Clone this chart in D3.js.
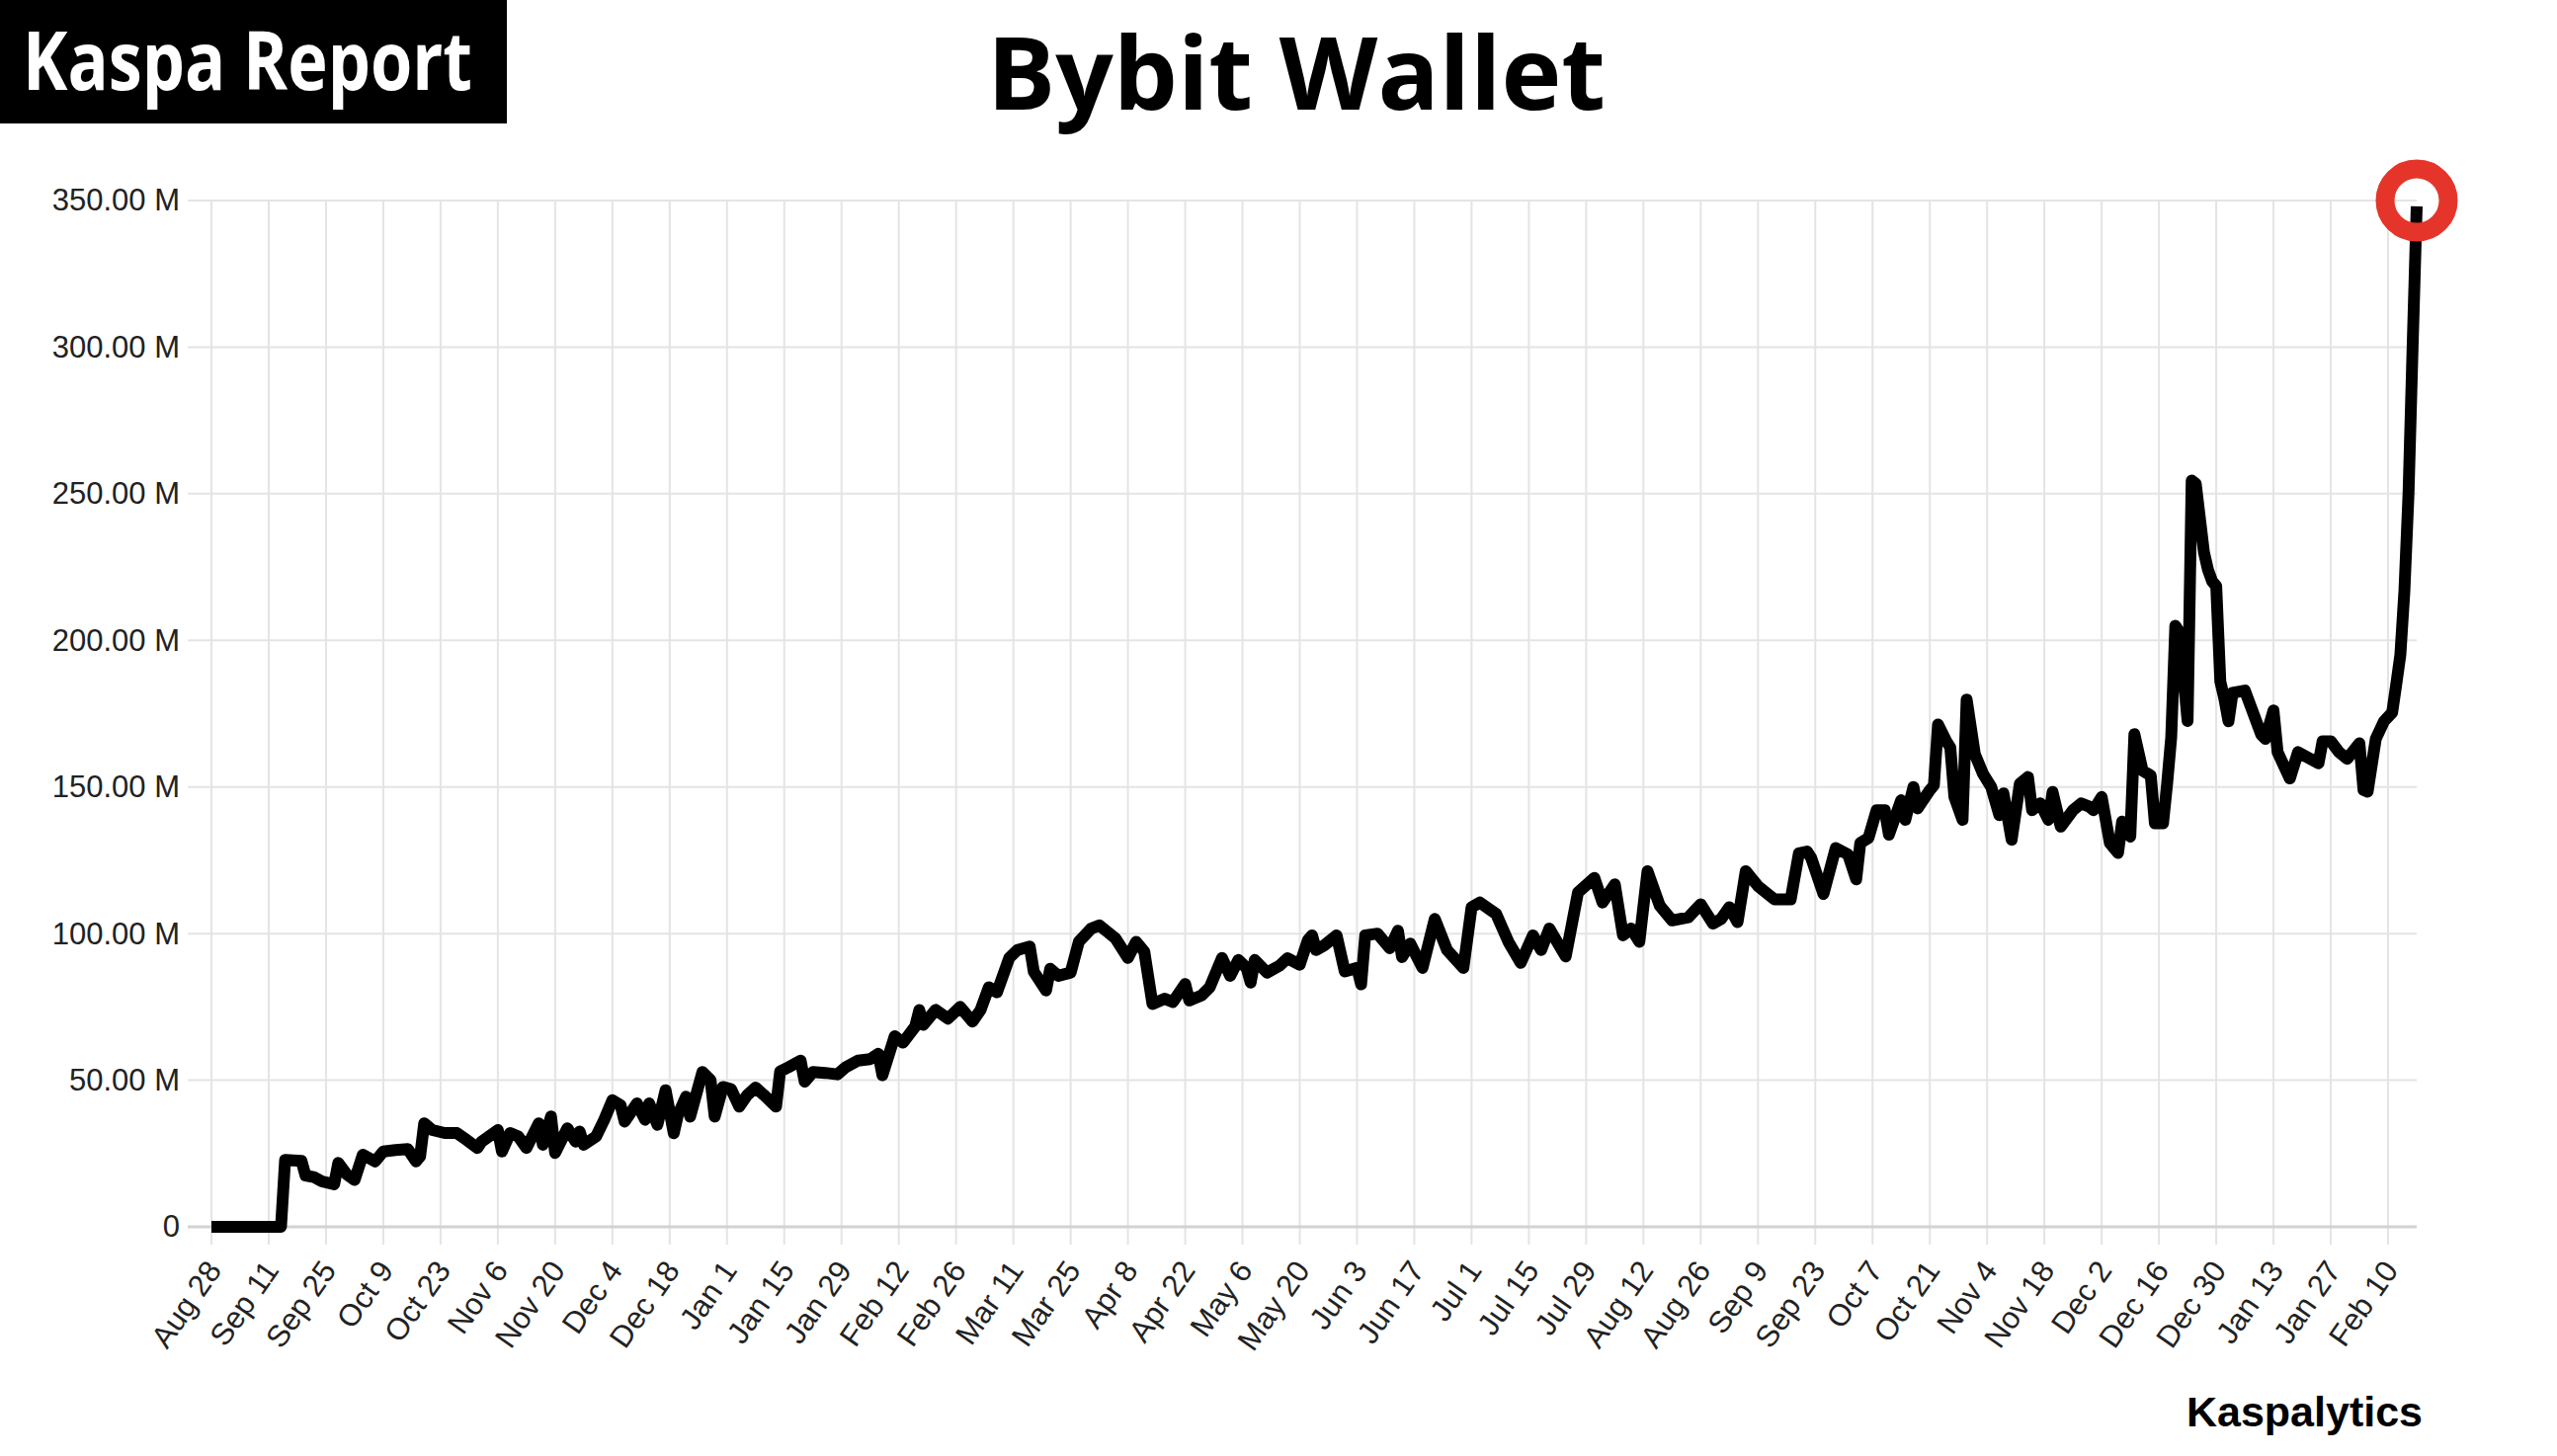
<!DOCTYPE html>
<html>
<head>
<meta charset="utf-8">
<script src="https://cdn.jsdelivr.net/npm/d3@7"></script>
<style>
  html, body { margin: 0; padding: 0; background: #fff; }
  svg { display: block; }
</style>
</head>
<body>
<script>
// Wallet balance (millions of KAS)
const dates = [
  "2023-08-28","2023-09-11","2023-09-14","2023-09-15","2023-09-19","2023-09-20","2023-09-22","2023-09-24","2023-09-27","2023-09-28","2023-09-30",
  "2023-10-02","2023-10-04","2023-10-07","2023-10-09","2023-10-12","2023-10-15","2023-10-17","2023-10-18","2023-10-19","2023-10-21","2023-10-24","2023-10-27","2023-10-29",
  "2023-11-01","2023-11-02","2023-11-06","2023-11-07","2023-11-09","2023-11-11","2023-11-13","2023-11-16","2023-11-17","2023-11-19","2023-11-20","2023-11-23","2023-11-25","2023-11-26","2023-11-27","2023-11-30",
  "2023-12-02","2023-12-04","2023-12-06","2023-12-07","2023-12-10","2023-12-12","2023-12-13","2023-12-15","2023-12-17","2023-12-19","2023-12-20","2023-12-22","2023-12-23","2023-12-26","2023-12-28","2023-12-29","2023-12-31",
  "2024-01-02","2024-01-04","2024-01-06","2024-01-08","2024-01-10","2024-01-13","2024-01-14","2024-01-16","2024-01-19","2024-01-20","2024-01-22","2024-01-25","2024-01-28","2024-01-30",
  "2024-02-02","2024-02-05","2024-02-07","2024-02-08","2024-02-11","2024-02-13","2024-02-16","2024-02-17","2024-02-18","2024-02-21","2024-02-24","2024-02-27",
  "2024-03-01","2024-03-03","2024-03-05","2024-03-07","2024-03-10","2024-03-12","2024-03-15","2024-03-16","2024-03-19","2024-03-20","2024-03-22","2024-03-25","2024-03-27","2024-03-30",
  "2024-04-01","2024-04-03","2024-04-05","2024-04-08","2024-04-10","2024-04-12","2024-04-14","2024-04-17","2024-04-19","2024-04-22","2024-04-23","2024-04-26","2024-04-28",
  "2024-05-01","2024-05-03","2024-05-05","2024-05-07","2024-05-08","2024-05-09","2024-05-12","2024-05-15","2024-05-17","2024-05-20","2024-05-22","2024-05-23","2024-05-24","2024-05-26","2024-05-29","2024-05-31",
  "2024-06-03","2024-06-04","2024-06-05","2024-06-08","2024-06-11","2024-06-13","2024-06-14","2024-06-16","2024-06-19","2024-06-22","2024-06-25","2024-06-29",
  "2024-07-01","2024-07-03","2024-07-07","2024-07-10","2024-07-13","2024-07-16","2024-07-18","2024-07-20","2024-07-24","2024-07-27","2024-07-31",
  "2024-08-02","2024-08-05","2024-08-07","2024-08-09","2024-08-11","2024-08-13","2024-08-16","2024-08-19","2024-08-23","2024-08-26","2024-08-29","2024-08-31",
  "2024-09-02","2024-09-04","2024-09-06","2024-09-09","2024-09-13","2024-09-17","2024-09-19","2024-09-21","2024-09-22","2024-09-25","2024-09-28",
  "2024-10-01","2024-10-03","2024-10-04","2024-10-06","2024-10-08","2024-10-10","2024-10-11","2024-10-14","2024-10-15","2024-10-17","2024-10-18","2024-10-21","2024-10-22","2024-10-23","2024-10-25","2024-10-26","2024-10-27","2024-10-29","2024-10-30",
  "2024-11-01","2024-11-03","2024-11-05","2024-11-07","2024-11-08","2024-11-10","2024-11-12","2024-11-14","2024-11-15","2024-11-17","2024-11-19","2024-11-20","2024-11-22","2024-11-25","2024-11-27","2024-11-29","2024-11-30",
  "2024-12-02","2024-12-04","2024-12-06","2024-12-07","2024-12-09","2024-12-10","2024-12-12","2024-12-14","2024-12-15","2024-12-17","2024-12-18","2024-12-19","2024-12-20","2024-12-21","2024-12-23","2024-12-24","2024-12-25","2024-12-27","2024-12-28","2024-12-29","2024-12-30","2024-12-31",
  "2025-01-01","2025-01-02","2025-01-03","2025-01-06","2025-01-08","2025-01-10","2025-01-11","2025-01-13","2025-01-14","2025-01-17","2025-01-19","2025-01-22","2025-01-24","2025-01-25","2025-01-27","2025-01-29","2025-01-31",
  "2025-02-03","2025-02-04","2025-02-05","2025-02-07","2025-02-09","2025-02-11","2025-02-12","2025-02-13","2025-02-14","2025-02-15","2025-02-16","2025-02-17"
];

const balances = [
  0, 0, 0, 22.8, 22.5, 17.5, 17, 15.5, 14.5, 21.8, 18,
  16, 24.6, 22.3, 25.7, 26.2, 26.5, 22.3, 24, 35.3, 33, 32, 32, 30,
  26.9, 29, 33, 25.7, 32, 30.8, 26.9, 35.3, 28, 37.6, 25.2, 33.6, 29.1, 32.5, 28, 30.8,
  36.5, 43.2, 41.5, 35.9, 42.1, 36.5, 42.1, 34.8, 46.6, 31.9, 38.1, 44.4, 37.6, 52.8, 50, 37.6, 47.7,
  47, 41, 45, 47.5, 45, 41, 53, 54.4, 56.7, 49.5, 52.8, 52.5, 52, 54.4,
  56.7, 57.2, 59, 51.7, 65, 62.8, 68.3, 73.9, 68.9, 74, 71, 75,
  70, 74, 81.7, 80, 91.7, 94.4, 95.6, 87, 80.6, 88, 85.6, 86.7, 97.2, 101.7,
  102.8, 100.6, 98.3, 91.7, 97.2, 93.9, 76, 77.8, 76.7, 82.8, 77.2, 78.9, 81.7,
  91.7, 85.6, 91, 88.3, 83.3, 91, 86.7, 89, 91.6, 89.4, 97.8, 99.4, 94.4, 96, 99.4, 87.1,
  88.3, 82.7, 99.4, 100, 95, 101, 92, 96.6, 88.3, 105, 94.4, 88.3,
  109, 110.6, 106.7, 97.2, 90, 99.4, 94.4, 101.7, 92.2, 114, 119,
  110.6, 116.8, 99.4, 101.7, 97.2, 121.3, 109.5, 104.5, 105.6, 110, 103.4, 105,
  109, 103.9, 121.3, 116.2, 111.7, 111.7, 127.4, 128, 125.8, 113.5, 129.2,
  127, 118.5, 130.9, 132.6, 142.1, 142.1, 133.7, 145.5, 138.8, 150, 142.7, 148.9, 150.6, 171.3, 165.7, 163.5, 146.6, 138.8, 179.8,
  161.2, 154.5, 150, 140.4, 147.8, 132, 151.1, 153.4, 142.1, 144.4, 138.8, 148.3, 136.5, 142.1, 144.4, 143.3, 142.1,
  146.6, 130.9, 127.5, 138.2, 133.1, 168, 155.6, 153.9, 137.6, 137.6, 151.1, 166.9, 205, 202.8, 172.5, 254.5, 253.4, 230, 224, 220.2, 218.5, 186,
  180, 172.4, 182.1, 182.9, 175.4, 167.9, 166.4, 176.1, 161.9, 152.9, 161.9, 159.6, 158.1, 165.6, 165.6, 161.9, 159.6,
  164.9, 149, 148.4, 166.4, 172.4, 175.4, 185, 195, 217, 250, 300, 348
];

// x tick dates (every two weeks)
const tickDates = [
  "2023-08-28","2023-09-11","2023-09-25","2023-10-09","2023-10-23","2023-11-06","2023-11-20","2023-12-04","2023-12-18",
  "2024-01-01","2024-01-15","2024-01-29","2024-02-12","2024-02-26","2024-03-11","2024-03-25","2024-04-08","2024-04-22",
  "2024-05-06","2024-05-20","2024-06-03","2024-06-17","2024-07-01","2024-07-15","2024-07-29","2024-08-12","2024-08-26",
  "2024-09-09","2024-09-23","2024-10-07","2024-10-21","2024-11-04","2024-11-18","2024-12-02","2024-12-16","2024-12-30",
  "2025-01-13","2025-01-27","2025-02-10"
];

const yTicks = [0, 50, 100, 150, 200, 250, 300, 350];

const parseDate = d3.utcParse('%Y-%m-%d');
const dataset = dates.map((d, i) => ({ date: parseDate(d), value: balances[i] }));

// Chart dimensions
const W = 2588, H = 1474;
const margin = { top: 203, right: 142, bottom: 232, left: 214 };
const width = W - margin.left - margin.right;
const height = H - margin.top - margin.bottom;

const svg = d3.select('body')
  .append('svg')
  .attr('width', W)
  .attr('height', H);

svg.append('rect').attr('width', W).attr('height', H).attr('fill', '#fff');

const g = svg.append('g')
  .attr('transform', `translate(${margin.left},${margin.top})`);

// Scales
const xScale = d3.scaleUtc()
  .domain(d3.extent(dataset, d => d.date))
  .range([0, width]);

const yScale = d3.scaleLinear()
  .domain([0, 350])
  .range([height, 0]);

const tickLen = 18;
const labelFont = '"Liberation Sans", Arial, Helvetica, sans-serif';

// Vertical grid
g.append('g')
  .selectAll('line')
  .data(tickDates.map(parseDate))
  .join('line')
  .attr('x1', d => xScale(d))
  .attr('x2', d => xScale(d))
  .attr('y1', 0)
  .attr('y2', height + tickLen)
  .attr('stroke', '#e4e4e4')
  .attr('stroke-width', 2);

// Horizontal grid
g.append('g')
  .selectAll('line')
  .data(yTicks)
  .join('line')
  .attr('x1', -tickLen - 6)
  .attr('x2', width)
  .attr('y1', d => yScale(d))
  .attr('y2', d => yScale(d))
  .attr('stroke', d => d === 0 ? '#d2d2d2' : '#e4e4e4')
  .attr('stroke-width', d => d === 0 ? 3 : 2);

// Y axis labels
const yAxis = d3.axisLeft(yScale)
  .tickValues(yTicks)
  .tickSize(0)
  .tickPadding(32)
  .tickFormat(d => d === 0 ? '0' : d3.format('.2f')(d) + ' M');

g.append('g')
  .attr('id', 'y-axis')
  .call(yAxis)
  .call(ax => ax.select('.domain').remove())
  .selectAll('text')
  .attr('font-family', labelFont)
  .attr('font-size', 31)
  .attr('fill', '#222');

// X axis labels, rotated
const xAxis = d3.axisBottom(xScale)
  .tickValues(tickDates.map(parseDate))
  .tickSize(0)
  .tickFormat(d3.utcFormat('%b %-d'));

g.append('g')
  .attr('id', 'x-axis')
  .attr('transform', `translate(0,${height})`)
  .call(xAxis)
  .call(ax => ax.select('.domain').remove())
  .selectAll('text')
  .attr('font-family', labelFont)
  .attr('font-size', 31)
  .attr('fill', '#222')
  .attr('text-anchor', 'end')
  .attr('y', 0)
  .attr('dy', '0.35em')
  .attr('transform', 'translate(2,38) rotate(-55)');

// Balance line
const line = d3.line()
  .x(d => xScale(d.date))
  .y(d => yScale(d.value));

g.append('path')
  .datum(dataset)
  .attr('fill', 'none')
  .attr('stroke', '#000')
  .attr('stroke-width', 12)
  .attr('stroke-linejoin', 'round')
  .attr('stroke-linecap', 'butt')
  .attr('d', line);

// Red ring on the latest value
const last = dataset[dataset.length - 1];
g.append('circle')
  .attr('cx', xScale(last.date))
  .attr('cy', yScale(350))
  .attr('r', 32)
  .attr('fill', 'none')
  .attr('stroke', '#e5352a')
  .attr('stroke-width', 19);

// Header badge
svg.append('rect')
  .attr('x', 0)
  .attr('y', 0)
  .attr('width', 513)
  .attr('height', 125)
  .attr('fill', '#000');

svg.append('text')
  .attr('x', 23)
  .attr('y', 91)
  .attr('font-family', '"Open Sans", "Noto Sans", sans-serif')
  .attr('font-weight', 700)
  .attr('font-size', 83)
  .attr('fill', '#fff')
  .attr('textLength', 455)
  .attr('lengthAdjust', 'spacingAndGlyphs')
  .text('Kaspa Report');

// Title
svg.append('text')
  .attr('x', 1312)
  .attr('y', 111)
  .attr('text-anchor', 'middle')
  .attr('font-family', '"Open Sans", "Noto Sans", sans-serif')
  .attr('font-weight', 700)
  .attr('font-size', 103)
  .attr('fill', '#000')
  .text('Bybit Wallet');

// Source credit
svg.append('text')
  .attr('x', 2452)
  .attr('y', 1444)
  .attr('text-anchor', 'end')
  .attr('font-family', labelFont)
  .attr('font-weight', 700)
  .attr('font-size', 43)
  .attr('fill', '#000')
  .text('Kaspalytics');
</script>
</body>
</html>
